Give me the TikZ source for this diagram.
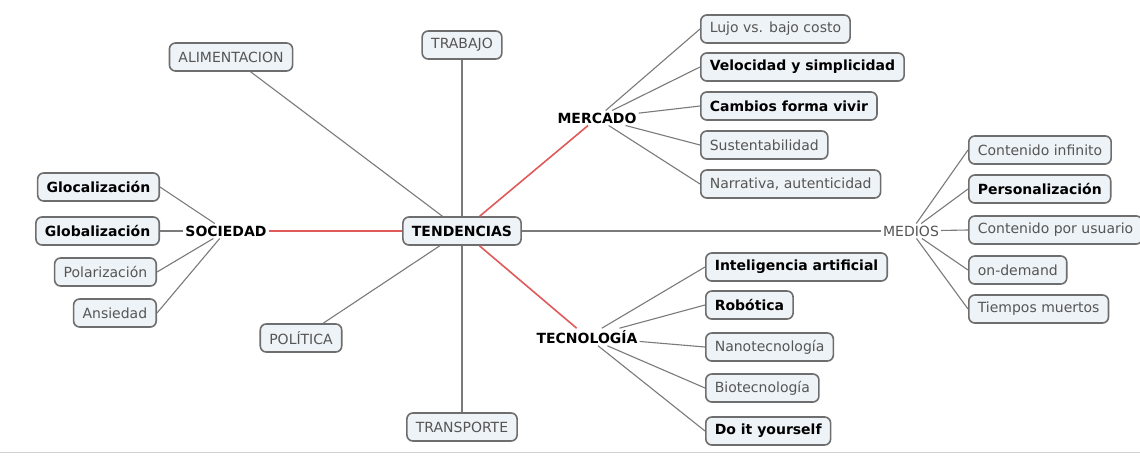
\documentclass[tikz,border=0pt]{standalone}
\usepackage{fontspec}
\setmainfont{DejaVu Sans}
\definecolor{boxfill}{HTML}{EEF3F7}
\definecolor{boxline}{HTML}{6E6E6E}
\definecolor{linkgray}{HTML}{7A7A7A}
\definecolor{linkred}{HTML}{E05A5A}
\definecolor{txtgray}{HTML}{555555}
\begin{document}
\begin{tikzpicture}[x=1pt,y=-1pt,
  concept/.style={draw=boxline,line width=1.6pt,fill=boxfill,rounded corners=6pt,
    inner xsep=9pt,minimum height=28pt,font=\fontsize{14}{16}\selectfont,text=txtgray},
  strong/.style={concept,font=\fontsize{14}{16}\selectfont\bfseries,text=black},
  hub/.style={inner sep=2pt,font=\fontsize{14}{16}\selectfont\bfseries,text=black},
  link/.style={draw=linkgray,line width=1.1pt},
  redlink/.style={draw=linkred,line width=1.6pt}]
\useasboundingbox (0,0) rectangle (1140,455);
\fill[white] (0,0) rectangle (1140,455);
\draw[gray!35,line width=1pt] (0,452) -- (1140,452);

% centre
\node[strong] (ten) at (462,231) {TENDENCIAS};

% hubs
\node[hub] (soc) at (226,231) {SOCIEDAD};
\node[hub] (mer) at (597,118) {MERCADO};
\node[hub] (tec) at (587,337) {TECNOLOGÍA};
\node[inner sep=2pt,font=\fontsize{14}{16}\selectfont,text=txtgray] (med) at (911,231) {MEDIOS};

% direct concepts
\node[concept] (tra) at (462,45) {TRABAJO};
\node[concept] (ali) at (231,57) {ALIMENTACION};
\node[concept] (pol) at (301,338) {POLÍTICA};
\node[concept] (trn) at (462,427) {TRANSPORTE};

% sociedad children
\node[strong,anchor=east] (s1) at (160,187) {Glocalización};
\node[strong,anchor=east] (s2) at (160,231) {Globalización};
\node[concept,anchor=east] (s3) at (157,272) {Polarización};
\node[concept,anchor=east] (s4) at (157,313) {Ansiedad};

% mercado children
\node[concept,anchor=west] (m1) at (700,29) {Lujo vs. bajo costo};
\node[strong,anchor=west] (m2) at (700,67) {Velocidad y simplicidad};
\node[strong,anchor=west] (m3) at (700,106) {Cambios forma vivir};
\node[concept,anchor=west] (m4) at (700,145) {Sustentabilidad};
\node[concept,anchor=west] (m5) at (700,184) {Narrativa, autenticidad};

% medios children
\node[concept,anchor=west] (d1) at (968,150) {Contenido infinito};
\node[strong,anchor=west] (d2) at (968,189) {Personalización};
\node[concept,anchor=west] (d3) at (968,230) {Contenido por usuario};
\node[concept,anchor=west] (d4) at (968,270) {on-demand};
\node[concept,anchor=west] (d5) at (968,309) {Tiempos muertos};

% tecnologia children
\node[strong,anchor=west] (t1) at (705,267) {Inteligencia artificial};
\node[strong,anchor=west] (t2) at (705,305) {Robótica};
\node[concept,anchor=west] (t3) at (705,347) {Nanotecnología};
\node[concept,anchor=west] (t4) at (705,388) {Biotecnología};
\node[strong,anchor=west] (t5) at (705,431) {Do it yourself};

% main links
\draw[redlink] (ten) -- (soc);
\draw[redlink] (ten) -- (mer);
\draw[redlink] (ten) -- (tec);
\draw[link] (ten) -- (med);
\draw[link] (ten) -- (tra);
\draw[link] (ten) -- (trn);
\draw[link] (ten) -- (ali);
\draw[link] (ten) -- (pol);

% sub links
\foreach \c in {s1,s2,s3,s4} \draw[link] (soc) -- (\c.east);
\foreach \c in {m1,m2,m3,m4,m5} \draw[link] (mer) -- (\c.west);
\foreach \c in {d1,d2,d3,d4,d5} \draw[link] (med) -- (\c.west);
\foreach \c in {t1,t2,t3,t4,t5} \draw[link] (tec) -- (\c.west);
\end{tikzpicture}
\end{document}
